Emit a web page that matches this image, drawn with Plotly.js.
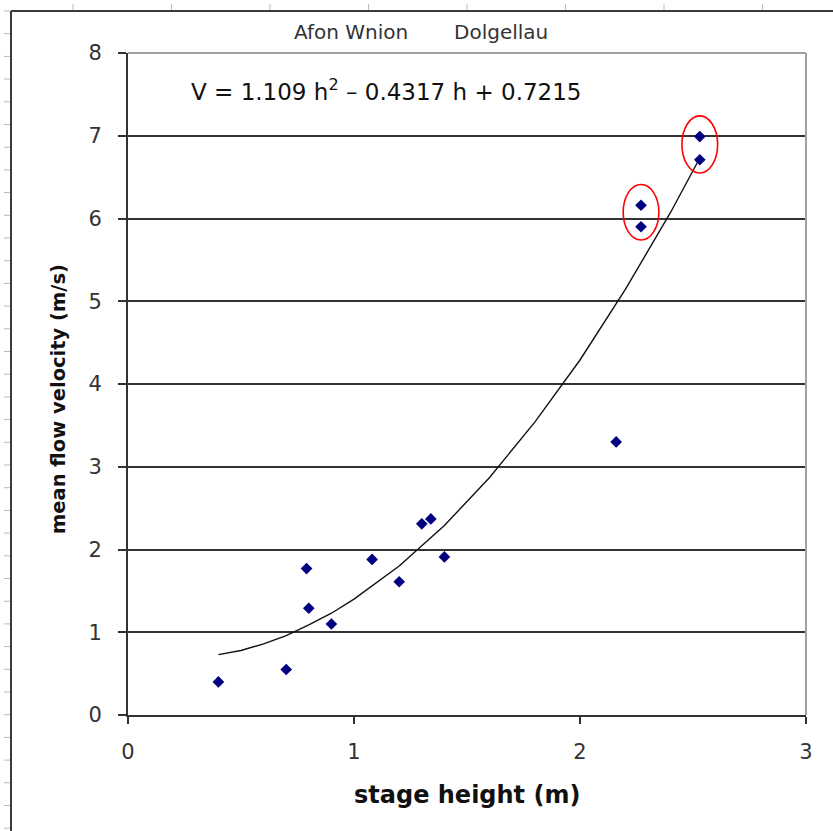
<!DOCTYPE html>
<html>
<head>
<meta charset="utf-8">
<script src="https://cdn.plot.ly/plotly-3.0.1.min.js"></script>
<style>
  html, body { margin: 0; padding: 0; background: #ffffff; }
  #chart { width: 833px; height: 831px; }
</style>
</head>
<body>
<div id="chart"></div>
<script>
// ---- data ----
const stageHeight = [0.40, 0.70, 0.79, 0.80, 0.90, 1.08, 1.20, 1.30, 1.34, 1.40, 2.16, 2.27, 2.27, 2.53, 2.53];
const meanVelocity = [0.40, 0.55, 1.77, 1.29, 1.10, 1.88, 1.61, 2.31, 2.37, 1.91, 3.30, 6.16, 5.90, 6.99, 6.71];

// trend line as drawn in the picture
const trendH = [0.40, 0.50, 0.60, 0.70, 0.80, 0.90, 1.00, 1.20, 1.40, 1.60, 1.80, 2.00, 2.20, 2.40, 2.52];
const trendV = [0.73, 0.78, 0.86, 0.96, 1.09, 1.23, 1.40, 1.80, 2.29, 2.87, 3.54, 4.29, 5.14, 6.07, 6.68];

// circled pairs (indices into the point arrays)
const circledGroups = [[11, 12], [13, 14]];

const xTickVals = [0, 1, 2, 3];
const yTickVals = [0, 1, 2, 3, 4, 5, 6, 7, 8];

const chartTitleLeft = 'Afon Wnion';
const chartTitleRight = 'Dolgellau';
const equationText = 'V = 1.109 h<sup>2</sup> \u2013 0.4317 h + 0.7215';
const xTitle = 'stage height (m)';
const yTitle = 'mean flow velocity (m/s)';

// ---- layout geometry ----
const W = 833, H = 831;
const M = { l: 128, r: 27, t: 53, b: 116 };
const PW = W - M.l - M.r, PH = H - M.t - M.b;
const px = x => (x - M.l) / PW;          // pixel -> paper x
const py = y => (H - M.b - y) / PH;      // pixel -> paper y

const shapes = [];
// outer frame (window border)
shapes.push({ type: 'line', xref: 'paper', yref: 'paper', x0: px(11), x1: px(833), y0: py(11), y1: py(11), line: { color: '#3a3a3a', width: 2 } });
shapes.push({ type: 'line', xref: 'paper', yref: 'paper', x0: px(11), x1: px(11), y0: py(11), y1: py(831), line: { color: '#3a3a3a', width: 2 } });
// ruler ticks
for (let yy = 11; yy < 831; yy += 22.7) {
  shapes.push({ type: 'line', xref: 'paper', yref: 'paper', x0: px(4), x1: px(10), y0: py(yy), y1: py(yy), line: { color: '#bbbbbb', width: 1 } });
}
for (let xx = 73; xx < 833; xx += 98.5) {
  shapes.push({ type: 'line', xref: 'paper', yref: 'paper', x0: px(xx), x1: px(xx), y0: py(4), y1: py(10), line: { color: '#bbbbbb', width: 1 } });
}
// plot area border (top/right, grey)
shapes.push({ type: 'line', xref: 'paper', yref: 'paper', x0: 0, x1: 1, y0: 1, y1: 1, line: { color: '#a0a0a0', width: 2 } });
shapes.push({ type: 'line', xref: 'paper', yref: 'paper', x0: 1, x1: 1, y0: 0, y1: 1, line: { color: '#a0a0a0', width: 2 } });

// red ellipses around the circled pairs
circledGroups.forEach(g => {
  const xs = g.map(i => stageHeight[i]);
  const ys = g.map(i => meanVelocity[i]);
  const cx = xs.reduce((a, b) => a + b, 0) / xs.length;
  shapes.push({
    type: 'circle', xref: 'x', yref: 'y',
    x0: cx - 0.079, x1: cx + 0.079,
    y0: Math.min(...ys) - 0.16, y1: Math.max(...ys) + 0.25,
    line: { color: '#ff0000', width: 1.6 }
  });
});

const wideFam = '"DejaVu Sans", "Liberation Sans", Arial, sans-serif';

const annotations = [
  { xref: 'paper', yref: 'paper', x: px(292), y: py(32), xanchor: 'left', yanchor: 'middle', showarrow: false,
    text: chartTitleLeft, font: { family: wideFam, size: 20, color: '#333333' } },
  { xref: 'paper', yref: 'paper', x: px(452), y: py(32), xanchor: 'left', yanchor: 'middle', showarrow: false,
    text: chartTitleRight, font: { family: wideFam, size: 20, color: '#333333' } },
  { xref: 'paper', yref: 'paper', x: px(189), y: py(90), xanchor: 'left', yanchor: 'middle', showarrow: false,
    text: equationText, font: { family: wideFam, size: 23, color: '#111111' } },
  { xref: 'paper', yref: 'paper', x: px(467), y: py(795), xanchor: 'center', yanchor: 'middle', showarrow: false,
    text: '<b>' + xTitle + '</b>', font: { family: wideFam, size: 24, color: '#111111' } },
  { xref: 'paper', yref: 'paper', x: px(58), y: py(399), xanchor: 'center', yanchor: 'middle', showarrow: false, textangle: -90,
    text: '<b>' + yTitle + '</b>', font: { family: wideFam, size: 19.5, color: '#111111' } }
];

const traces = [
  {
    x: trendH, y: trendV, type: 'scatter', mode: 'lines',
    line: { color: '#111111', width: 1.4 }, hoverinfo: 'skip', showlegend: false
  },
  {
    x: stageHeight, y: meanVelocity, type: 'scatter', mode: 'markers',
    marker: { symbol: 'diamond', size: 9, color: '#000080', line: { width: 0 } },
    showlegend: false
  }
];

const layout = {
  width: W, height: H,
  margin: M,
  paper_bgcolor: '#ffffff', plot_bgcolor: '#ffffff',
  showlegend: false,
  xaxis: {
    range: [0, 3], tickvals: xTickVals, ticktext: xTickVals.map(String),
    showgrid: false, zeroline: false,
    showline: true, linecolor: '#333333', linewidth: 2,
    ticks: 'outside', ticklen: 7, tickwidth: 2, tickcolor: '#333333',
    ticklabelstandoff: 10,
    tickfont: { family: wideFam, size: 21, color: '#333333' }
  },
  yaxis: {
    range: [0, 8], tickvals: yTickVals, ticktext: yTickVals.map(String),
    showgrid: true, gridcolor: '#333333', gridwidth: 2, zeroline: false,
    showline: true, linecolor: '#333333', linewidth: 2,
    ticks: 'outside', ticklen: 8, tickwidth: 2, tickcolor: '#333333',
    ticklabelstandoff: 12,
    tickfont: { family: wideFam, size: 21, color: '#333333' }
  },
  shapes: shapes,
  annotations: annotations
};

Plotly.newPlot('chart', traces, layout, { displayModeBar: false, staticPlot: true });
</script>
</body>
</html>
